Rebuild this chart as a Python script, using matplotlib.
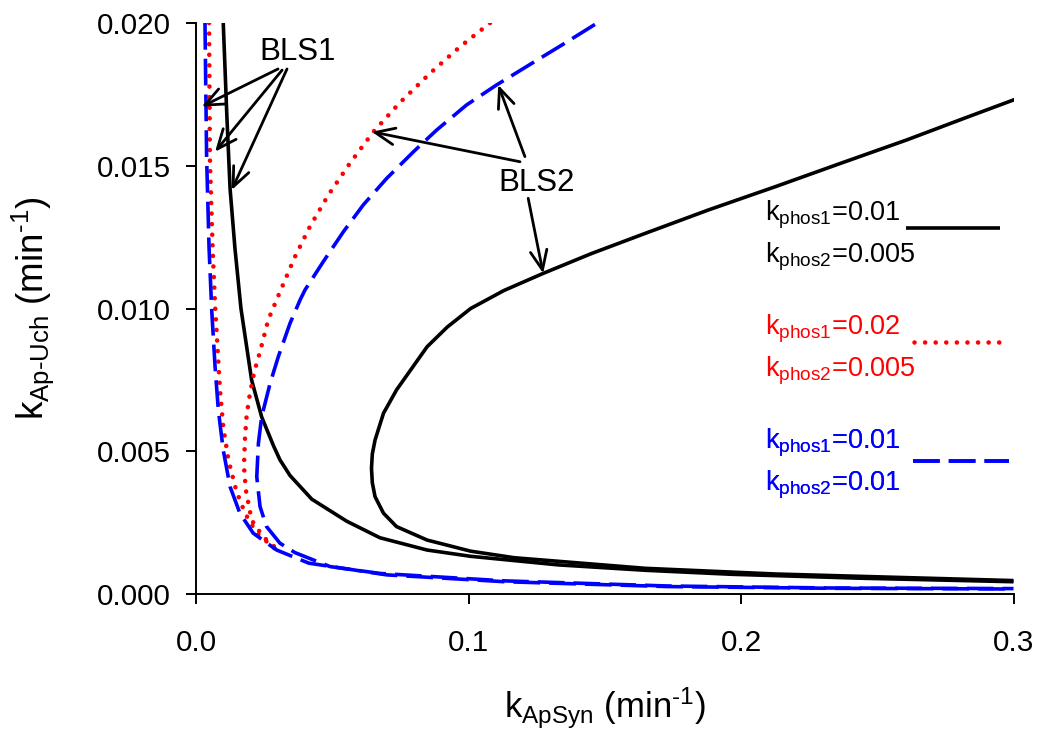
import numpy as np
import matplotlib
matplotlib.use("Agg")
import matplotlib.pyplot as plt
from matplotlib.lines import Line2D
from matplotlib.legend_handler import HandlerLine2D
from matplotlib.ticker import FixedLocator, StrMethodFormatter

plt.rcParams['font.family'] = ['Liberation Sans', 'DejaVu Sans']
plt.rcParams['mathtext.fontset'] = 'custom'
plt.rcParams['mathtext.rm'] = 'Liberation Sans'
plt.rcParams['mathtext.it'] = 'Liberation Sans:italic'
plt.rcParams['mathtext.bf'] = 'Liberation Sans:bold'

# ---------------- data ----------------
# kphos1=0.01, kphos2=0.005 (black, solid)
black_bls1_x = [0.0100, 0.0113, 0.0125, 0.0143, 0.0165, 0.0204, 0.0241, 0.0284, 0.0308,
                0.0345, 0.0425, 0.0553, 0.0675, 0.0848, 0.1008, 0.1329, 0.1650, 0.1967,
                0.2450, 0.3000]
black_bls1_y = [0.0200, 0.0168, 0.0142, 0.0121, 0.0100, 0.0075, 0.0062, 0.0052, 0.0047,
                0.00415, 0.00332, 0.00255, 0.00197, 0.00154, 0.00132, 0.00102, 0.00083, 0.00069,
                0.00055, 0.00043]
black_bls2_x = [0.3007, 0.2810, 0.2607, 0.2370, 0.2127, 0.1880, 0.1648, 0.1450, 0.1274,
                0.1130, 0.1008, 0.0922, 0.0848, 0.0736, 0.0688, 0.0657, 0.0647, 0.0644,
                0.0647, 0.0657, 0.0688, 0.0736, 0.0848, 0.1008, 0.1168, 0.1648, 0.2127, 0.3000]
black_bls2_y = [0.01733, 0.01663, 0.0159, 0.0151, 0.01427, 0.01345, 0.01263, 0.01192, 0.01123,
                0.01063, 0.0100, 0.00935, 0.00866, 0.00715, 0.00633, 0.00539, 0.00490, 0.00440,
                0.00390, 0.00341, 0.00283, 0.00236, 0.00189, 0.00150, 0.00127, 0.00090, 0.00070,
                0.00047]

# kphos1=0.02, kphos2=0.005 (red, dotted)
red_bls1_x = [0.0048, 0.0051, 0.0061, 0.0070, 0.0076, 0.0088, 0.0100, 0.0119, 0.0149,
              0.0180, 0.0223, 0.0296]
red_bls1_y = [0.0200, 0.01526, 0.0121, 0.0101, 0.00913, 0.00715, 0.00586, 0.00469, 0.00358,
              0.00283, 0.00213, 0.00154]
red_bls2_x = [0.1079, 0.0969, 0.0859, 0.0749, 0.0651, 0.0565, 0.0486, 0.0418, 0.0363,
              0.0300, 0.0265, 0.0235, 0.0214, 0.0198, 0.0186, 0.0180, 0.0176, 0.0183,
              0.0204, 0.0229, 0.0259, 0.0302]
red_bls2_y = [0.0200, 0.01917, 0.01824, 0.01722, 0.01619, 0.01509, 0.01398, 0.01287, 0.01181,
              0.0104, 0.0096, 0.00849, 0.00779, 0.00703, 0.00627, 0.00551, 0.00446, 0.00364,
              0.00259, 0.00224, 0.00189, 0.00154]

# kphos1=0.01, kphos2=0.01 (blue, dashed)
blue_bls1_x = [0.0033, 0.0039, 0.0048, 0.0058, 0.0070, 0.0082, 0.0100, 0.0125, 0.0161,
               0.0210, 0.0296, 0.0414, 0.0700, 0.1133, 0.1732, 0.2330, 0.3000]
blue_bls1_y = [0.0200, 0.01526, 0.0121, 0.00989, 0.00796, 0.00644, 0.00504, 0.00376, 0.00283,
               0.00213, 0.00154, 0.00108, 0.00067, 0.00043, 0.00026, 0.00020, 0.000175]
blue_bls2_x = [0.1464, 0.1348, 0.1238, 0.1103, 0.0993, 0.0883, 0.0798, 0.0700, 0.0614,
               0.0541, 0.0467, 0.0400, 0.0382, 0.0345, 0.0302, 0.0272, 0.0241, 0.0229, 0.0223,
               0.0235, 0.0259, 0.0308, 0.0363, 0.0492, 0.0675, 0.1133, 0.1732, 0.2330, 0.3000]
blue_bls2_y = [0.01995, 0.01926, 0.01862, 0.01783, 0.01713, 0.01625, 0.01549, 0.01456, 0.01363,
               0.01269, 0.01164, 0.01065, 0.0103, 0.00948, 0.00831, 0.00738, 0.00621, 0.00528,
               0.00411, 0.00306, 0.00236, 0.00178, 0.00145, 0.00096, 0.00072, 0.00046, 0.00028,
               0.00021, 0.00019]

x_ticks = [0.0, 0.1, 0.2, 0.3]
y_ticks = [0.000, 0.005, 0.010, 0.015, 0.020]

legend_labels = [r"$\mathrm{k_{phos1}}$=0.01" + "\n" + r"$\mathrm{k_{phos2}}$=0.005",
                 r"$\mathrm{k_{phos1}}$=0.02" + "\n" + r"$\mathrm{k_{phos2}}$=0.005",
                 r"$\mathrm{k_{phos1}}$=0.01" + "\n" + r"$\mathrm{k_{phos2}}$=0.01"]

# annotation anchors (text position, arrow tails, arrow tips)
bls1_text = (0.0374, 0.01898)
bls1_tails = [(0.0301, 0.01839), (0.0316, 0.01835), (0.0334, 0.01839)]
bls1_tips = [(0.0021, 0.01707), (0.0070, 0.01549), (0.0131, 0.01415)]
bls2_text = (0.1251, 0.0144)
bls2_tails = [(0.1189, 0.01514), (0.1207, 0.01532), (0.1219, 0.01386)]
bls2_tips = [(0.0645, 0.01619), (0.1109, 0.01783), (0.1274, 0.01123)]

# ---------------- styles ----------------
black_style = dict(color='black', lw=2.6, linestyle='-', solid_capstyle='butt',
                   solid_joinstyle='round')
red_style = dict(color='#ff0000', lw=3.3, linestyle=(0, (0.01, 2.3)), dash_capstyle='round')
blue_style = dict(color='#0000ff', lw=2.6, linestyle=(0, (7.4, 2.5)), dash_capstyle='butt',
                  dash_joinstyle='round')

W, H = 1042, 737
fig = plt.figure(figsize=(W / 100, H / 100), dpi=100)
ax = fig.add_axes([196 / W, 143 / H, 817.5 / W, 571 / H])

ax.plot(black_bls1_x, black_bls1_y, **black_style)
ax.plot(black_bls2_x, black_bls2_y, **black_style)
ax.plot(red_bls1_x, red_bls1_y, **red_style)
ax.plot(red_bls2_x, red_bls2_y, **red_style)
ax.plot(blue_bls1_x, blue_bls1_y, **blue_style)
ax.plot(blue_bls2_x, blue_bls2_y, **blue_style)

ax.set_xlim(0, 0.3)
ax.set_ylim(0, 0.020)
ax.xaxis.set_major_locator(FixedLocator(x_ticks))
ax.yaxis.set_major_locator(FixedLocator(y_ticks))
ax.xaxis.set_major_formatter(StrMethodFormatter('{x:.1f}'))
ax.yaxis.set_major_formatter(StrMethodFormatter('{x:.3f}'))
ax.tick_params(axis='both', direction='out', length=7.2, width=1.4, labelsize=21.3)
ax.tick_params(axis='x', pad=18)
ax.tick_params(axis='y', pad=11)
for s in ['top', 'right']:
    ax.spines[s].set_visible(False)
for s in ['left', 'bottom']:
    ax.spines[s].set_linewidth(1.4)

ax.set_xlabel(r"k$_{\mathrm{ApSyn}}$ (min$^{\text{-1}}$)", fontsize=25)
ax.set_ylabel(r"k$_{\mathrm{Ap\text{-}Uch}}$ (min$^{\text{-1}}$)", fontsize=26.5)
ax.xaxis.set_label_coords(0.5, (594 - 686) / 571)
ax.yaxis.set_label_coords((56 - 196) / 817.5, 0.5)

# annotations
arrow_kw = dict(arrowstyle='->,head_length=0.7,head_width=0.3', lw=2.0, color='black',
                shrinkA=0, shrinkB=0, mutation_scale=20)
ax.text(*bls1_text, "BLS1", fontsize=22.5, ha='center', va='center')
for tail, tip in zip(bls1_tails, bls1_tips):
    ax.annotate('', xy=tip, xytext=tail, arrowprops=arrow_kw)
ax.text(*bls2_text, "BLS2", fontsize=22.5, ha='center', va='center')
for tail, tip in zip(bls2_tails, bls2_tips):
    ax.annotate('', xy=tip, xytext=tail, arrowprops=arrow_kw)


# legend: one small legend per parameter set, key line raised between the two text lines
class RaisedLine(HandlerLine2D):
    def __init__(self, dy, **kw):
        super().__init__(**kw)
        self.dy = dy

    def create_artists(self, legend, orig_handle, xdescent, ydescent, width, height,
                       fontsize, trans):
        arts = super().create_artists(legend, orig_handle, xdescent, ydescent, width,
                                      height, fontsize, trans)
        for a in arts:
            a.set_ydata(np.asarray(a.get_ydata(), dtype=float) + self.dy)
        return arts


styles = [black_style, red_style, blue_style]
tops_px = [199, 313, 427]          # top of each legend text block (pixels)
pads = [-0.35, -0.05, 0.45]
hlens = [3.45, 3.25, 3.55]
dys = [6.0, 6.0, 3.0]
for i, (st, lab) in enumerate(zip(styles, legend_labels)):
    h = Line2D([], [], **st)
    leg = ax.legend([h], [lab], frameon=False, markerfirst=False, fontsize=19.5,
                    handlelength=hlens[i], handletextpad=pads[i], labelcolor='linecolor',
                    handler_map={h: RaisedLine(dys[i])},
                    loc='upper left', bbox_to_anchor=((765 - 196) / 817.5, (594 - tops_px[i]) / 571),
                    borderaxespad=0, borderpad=0)
    for t in leg.get_texts():
        t.set_linespacing(1.45)
    ax.add_artist(leg)

fig.savefig('out.png', dpi=100)
